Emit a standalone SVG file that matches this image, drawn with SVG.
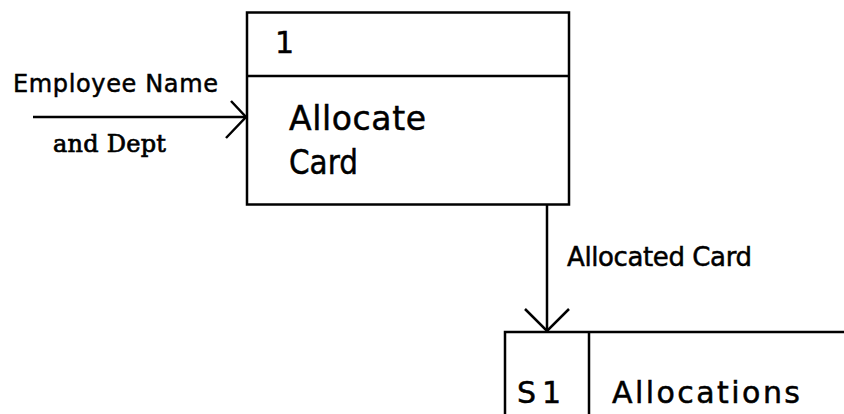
<svg xmlns="http://www.w3.org/2000/svg" width="844" height="414" viewBox="0 0 844 414">
  <style>
    .edge { stroke: #000; stroke-width: 2.5; fill: none; }
    .lbl { font-family: "DejaVu Sans", "Liberation Sans", sans-serif; fill: #000; stroke: #000; stroke-width: 0.5; }
    .serif { font-family: "DejaVu Serif", "Liberation Serif", serif; fill: #000; stroke: #000; stroke-width: 0.7; }
  </style>
  <rect width="844" height="414" fill="#fff"/>

  <!-- Process 1: Allocate Card -->
  <g id="process-1">
    <rect class="edge" x="247" y="12.5" width="322" height="192"/>
    <line class="edge" x1="247" y1="76" x2="569" y2="76"/>
    <text class="lbl" x="275" y="53" font-size="30">1</text>
    <text class="lbl" x="289" y="130" font-size="33" textLength="137" lengthAdjust="spacing">Allocate</text>
    <text class="lbl" x="289" y="174" font-size="33" textLength="69" lengthAdjust="spacingAndGlyphs">Card</text>
  </g>

  <!-- Data store S1: Allocations (open on the right and bottom) -->
  <g id="store-s1">
    <path class="edge" d="M505 414 V332 H844"/>
    <line class="edge" x1="589" y1="332" x2="589" y2="414"/>
    <text class="lbl" x="517" y="403" font-size="30" textLength="44" lengthAdjust="spacing">S1</text>
    <text class="lbl" x="612" y="403" font-size="30" textLength="188" lengthAdjust="spacing">Allocations</text>
  </g>

  <!-- Data flows -->
  <g id="connectors">
    <g id="flow-employee">
      <line class="edge" x1="33" y1="117" x2="246" y2="117"/>
      <polyline class="edge" points="231,101 246,117 226,138"/>
      <text class="lbl" x="13" y="92" font-size="24" textLength="205" lengthAdjust="spacing">Employee Name</text>
      <text class="serif" x="53" y="151.5" font-size="24" textLength="113" lengthAdjust="spacing">and Dept</text>
    </g>
    <g id="flow-allocated">
      <line class="edge" x1="547" y1="205" x2="547" y2="330"/>
      <polyline class="edge" points="525,309 547,331 569,309"/>
      <text class="lbl" x="567" y="266" font-size="26" textLength="185" lengthAdjust="spacing">Allocated Card</text>
    </g>
  </g>
</svg>
